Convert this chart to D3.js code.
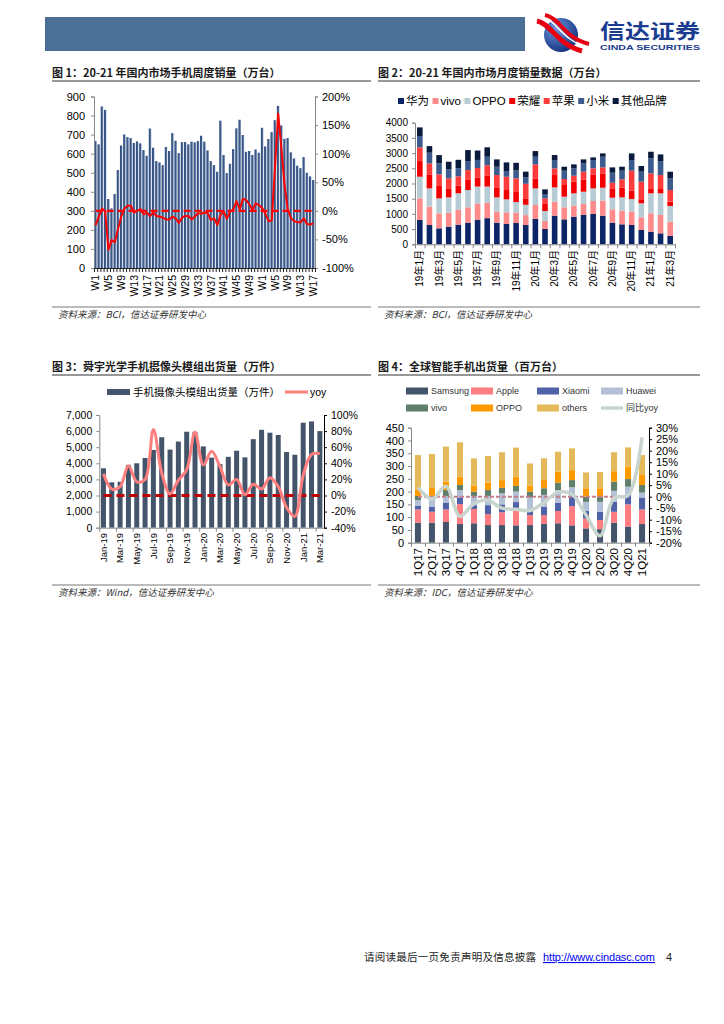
<!DOCTYPE html>
<html>
<head>
<meta charset="utf-8">
<script src="https://cdn.jsdelivr.net/npm/d3@7/dist/d3.min.js"></script>
<style>
body { margin: 0; background: #fff; }
svg { display: block; }
text { font-family: "Liberation Sans", Arial, "Noto Sans CJK SC", sans-serif; }
.cjk { font-family: "Noto Sans CJK SC", "Liberation Sans", sans-serif; }
</style>
</head>
<body>
<svg id="page" width="724" height="1024"></svg>
<script>
// fig 1: weekly domestic sales (万台) + yoy (%)
const weekCats = d3.range(1, 53).map(w => "20W" + w).concat(d3.range(1, 18).map(w => "21W" + w))
const weekTicks = ["W1","W5","W9","W13","W17","W21","W25","W29","W33","W37","W41","W45","W49","W1","W5","W9","W13","W17"]
const weekSales = [666,649,848,830,362,313,388,514,643,701,
	687,682,656,664,654,619,589,732,631,561,
	554,540,635,614,708,668,603,661,661,649,
	663,659,666,694,663,617,561,540,505,773,
	593,498,547,624,733,778,698,610,614,593,
	622,605,736,638,677,713,776,851,748,678,
	682,607,575,537,524,582,500,481,462]
const weekYoy = [-25,-10,4,-1,-68,-51,-55,-32,-10,4,
	9,9,-3,0,3,-6,-3,-9,-3,-9,
	-10,-12,-15,-15,-10,-13,-21,-12,-9,-9,
	-15,-10,-4,-5,-3,-4,-16,-13,-25,-7,
	-1,-14,-1,2,17,3,21,19,11,2,
	13,10,5,-5,-18,-17,75,170,110,45,
	2,-13,-18,-20,-20,-13,-23,-24,-22]

// fig 2: monthly sales by brand (万台)
const months2 = ["19年1月","19年2月","19年3月","19年4月","19年5月","19年6月","19年7月","19年8月","19年9月","19年10月","19年11月","19年12月",
	"20年1月","20年2月","20年3月","20年4月","20年5月","20年6月","20年7月","20年8月","20年9月","20年10月","20年11月","20年12月",
	"21年1月","21年2月","21年3月"]
const brandKeys = ["华为","vivo","OPPO","荣耀","苹果","小米","其他品牌"]
const huawei = [800,635,526,580,645,712,810,860,712,668,700,635,832,504,942,821,909,964,997,942,712,657,635,471,416,361,274]
const vivo   = [712,603,493,460,490,504,530,500,361,383,340,325,460,263,460,395,361,361,427,493,438,449,438,416,603,603,471]
const oppo   = [711,602,492,504,545,569,560,540,471,427,350,340,548,328,471,350,406,405,416,427,383,438,417,460,657,712,515]
const honor  = [515,460,406,296,255,351,300,350,329,307,330,211,328,252,405,384,383,400,460,471,307,318,273,110,164,142,142]
const apple  = [449,362,383,328,300,306,310,350,405,438,450,479,460,164,219,197,197,258,197,197,186,274,657,602,493,460,383]
const xiaomi = [373,350,361,296,270,296,265,280,274,186,260,210,252,143,274,273,241,273,274,350,329,284,351,329,493,460,383]
const otherBrands = [285,219,274,252,275,362,310,310,241,285,250,190,187,153,164,132,132,132,88,110,175,132,219,186,219,219,220]
const brandColors = ["#0b2566","#ff8a8a","#b7cbd4","#f20000","#ff3b3b","#3b5a8e","#0a1a3c"]

// fig 3: Sunny Optical camera module shipments (万件) + yoy
const months3 = ["Jan-19","Feb-19","Mar-19","Apr-19","May-19","Jun-19","Jul-19","Aug-19","Sep-19","Oct-19","Nov-19","Dec-19",
	"Jan-20","Feb-20","Mar-20","Apr-20","May-20","Jun-20","Jul-20","Aug-20","Sep-20","Oct-20","Nov-20","Dec-20",
	"Jan-21","Feb-21","Mar-21"]
const camShip = [3690,2820,2850,3900,4000,4330,4830,5620,4850,5350,5960,5950,5050,4350,3950,4400,4780,4370,5500,6080,5900,5760,4700,4530,6520,6600,6000]
const camYoy = [27,8,11,37,17,20,82,28,2,19,32,79,38,55,36,13,20,1,14,8,22,11,-15,-26,25,51,52]

// fig 4: global smartphone shipments (百万台) + yoy
const quarters = ["1Q17","2Q17","3Q17","4Q17","1Q18","2Q18","3Q18","4Q18","1Q19","2Q19","3Q19","4Q19","1Q20","2Q20","3Q20","4Q20","1Q21"]
const vendorKeys = ["Samsung","Apple","Xiaomi","Huawei","vivo","OPPO","others"]
const samsung = [78,78,81,73,76,69,69,68,69,74,76,68,56,53,78,63,73]
const appleQ  = [52,43,49,78,56,43,50,56,39,34,48,75,39,36,43,87,57]
const xiaomiQ = [15,20,27,26,15,35,31,35,22,33,33,37,29,32,39,37,47]
const huaweiQ = [22,26,26,29,36,36,43,41,47,46,49,37,36,39,43,32,19]
const vivoQ   = [16,16,23,20,17,23,22,22,23,26,29,28,20,20,36,30,30]
const oppoQ   = [26,34,33,32,24,30,30,36,24,32,43,39,33,33,41,48,39]
const othersQ = [134,130,137,135,106,103,109,114,86,85,78,85,62,64,74,76,78]
const globalYoy = [4,-1,4.5,-8.5,-3,-1.5,-5,-5.5,-6,-2.5,2,1,-8,-17,-0.5,0.5,25.8]
const vendorColors = ["#44546a","#ff7c80","#4f62a8","#b4c0d8","#5f7f6a","#ff9900","#e3b95a"]

const svg = d3.select("#page")
svg.append("rect").attr("width", 724).attr("height", 1024).attr("fill", "#fff")

const defs = svg.append("defs")
const bg = defs.append("linearGradient").attr("id", "barGrad").attr("x1", 0).attr("x2", 1).attr("y1", 0).attr("y2", 0)
bg.append("stop").attr("offset", "0").attr("stop-color", "#2f4c7c")
bg.append("stop").attr("offset", "0.6").attr("stop-color", "#3f5d8d")
bg.append("stop").attr("offset", "1").attr("stop-color", "#aebfd6")
const lg = defs.append("radialGradient").attr("id", "logoGrad").attr("cx", "0.35").attr("cy", "0.3").attr("r", "0.8")
lg.append("stop").attr("offset", "0").attr("stop-color", "#6d95dc")
lg.append("stop").attr("offset", "1").attr("stop-color", "#0c2a78")

// header
svg.append("rect").attr("x", 45).attr("y", 17).attr("width", 480).attr("height", 34).attr("fill", "#4c6f98")
svg.append("circle").attr("cx", 561).attr("cy", 35).attr("r", 17).attr("fill", "url(#logoGrad)")
svg.append("path").attr("d", "M537,21 C552,24 556,44 582,51").attr("fill", "none").attr("stroke", "#e60012").attr("stroke-width", 5)
svg.append("path").attr("d", "M542,17 C557,20 561,40 587,47").attr("fill", "none").attr("stroke", "#fff").attr("stroke-width", 1.5)
svg.append("path").attr("d", "M545,15 C560,18 564,38 589,44").attr("fill", "none").attr("stroke", "#e60012").attr("stroke-width", 4)
svg.append("text").attr("class", "cjk").attr("x", 600).attr("y", 39).attr("font-size", 20).attr("font-weight", "bold")
	.attr("fill", "#1a3c8f").attr("textLength", 100).attr("lengthAdjust", "spacingAndGlyphs").text("信达证券")
svg.append("text").attr("x", 600).attr("y", 50).attr("font-size", 7).attr("font-weight", "bold")
	.attr("fill", "#1a3c8f").attr("textLength", 100).attr("lengthAdjust", "spacingAndGlyphs").text("CINDA SECURITIES")

// footer
svg.append("text").attr("class", "cjk").attr("x", 364).attr("y", 961).attr("font-size", 10.5).attr("fill", "#222")
	.attr("textLength", 172).text("请阅读最后一页免责声明及信息披露")
svg.append("text").attr("x", 543).attr("y", 961).attr("font-size", 11).attr("fill", "#0000ee")
	.attr("text-decoration", "underline").attr("textLength", 112).text("http://www.cindasc.com")
svg.append("text").attr("x", 666).attr("y", 961).attr("font-size", 11).attr("fill", "#222").text("4")

function frame(x, x2, yTitle, ySource, titleText, sourceText) {
	svg.append("text").attr("class", "cjk").attr("x", x).attr("y", yTitle).attr("dy", "0.35em")
		.attr("font-size", 11).attr("font-weight", "bold").attr("fill", "#1a1a1a").text(titleText)
	svg.append("line").attr("x1", x).attr("x2", x2).attr("y1", yTitle + 8).attr("y2", yTitle + 8)
		.attr("stroke", "#333").attr("stroke-width", 1.2)
	svg.append("line").attr("x1", x).attr("x2", x2).attr("y1", ySource - 8).attr("y2", ySource - 8)
		.attr("stroke", "#555").attr("stroke-width", 0.8)
	svg.append("text").attr("class", "cjk").attr("x", x + 6).attr("y", ySource).attr("dy", "0.35em")
		.attr("font-size", 9.5).attr("font-style", "italic").attr("fill", "#333").text(sourceText)
}

function styleAxis(g, color, size) {
	g.select(".domain").attr("stroke", color)
	g.selectAll(".tick line").attr("stroke", color)
	g.selectAll(".tick text").attr("fill", "#000").attr("font-size", size)
}

function rotLabels(g, items, y, size) {
	g.selectAll(null).data(items).join("text")
		.attr("transform", d => `translate(${d.x},${y}) rotate(-90)`)
		.attr("text-anchor", "end").attr("dy", "0.35em").attr("font-size", size)
		.attr("fill", "#000").text(d => d.label)
}

// ---------- figure 1 ----------
frame(52, 371, 73, 315, "图 1：20-21 年国内市场手机周度销量（万台）", "资料来源：BCI，信达证券研发中心")
{
	const g = svg.append("g")
	const x = d3.scaleBand().domain(weekCats).range([94, 315]).paddingInner(0.2).paddingOuter(0.1)
	const y = d3.scaleLinear().domain([0, 900]).range([268, 96.5])
	const yr = d3.scaleLinear().domain([-100, 200]).range([268, 96.5])
	const cx = i => x(weekCats[i]) + x.bandwidth() / 2

	g.selectAll("rect").data(weekSales).join("rect")
		.attr("x", (d, i) => x(weekCats[i])).attr("y", d => y(d))
		.attr("width", x.bandwidth()).attr("height", d => y(0) - y(d))
		.attr("fill", "url(#barGrad)")

	styleAxis(g.append("g").attr("transform", "translate(94,0)")
		.call(d3.axisLeft(y).tickValues(d3.range(0, 901, 100)).tickFormat(d3.format("d")).tickSize(3).tickPadding(6)), "#888", 11)
	styleAxis(g.append("g").attr("transform", "translate(315,0)")
		.call(d3.axisRight(yr).tickValues(d3.range(-100, 201, 50)).tickFormat(d => d + "%").tickSize(3).tickPadding(4)), "#888", 11)
	const xb = d3.scaleLinear().domain([0, weekCats.length]).range([94, 315])
	styleAxis(g.append("g").attr("transform", "translate(0,268)")
		.call(d3.axisBottom(xb).tickValues(d3.range(0, weekCats.length + 1)).tickSize(4).tickFormat("").tickSizeOuter(0)), "#222", 10)
	rotLabels(g, weekTicks.map((t, k) => ({ label: t, x: cx(k * 4) })), 275, 10.5)

	g.append("line").attr("x1", cx(0)).attr("x2", cx(weekCats.length - 1))
		.attr("y1", yr(0)).attr("y2", yr(0))
		.attr("stroke", "#ff0000").attr("stroke-width", 2.2).attr("stroke-dasharray", "7,4")
	g.append("path").datum(weekYoy)
		.attr("d", d3.line().x((d, i) => cx(i)).y(d => yr(d)))
		.attr("fill", "none").attr("stroke", "#ff0000").attr("stroke-width", 2).attr("stroke-linejoin", "round")
}

// ---------- figure 2 ----------
frame(378, 700, 73, 315, "图 2：20-21 年国内市场月度销量数据（万台）", "资料来源：BCI，信达证券研发中心")
{
	const g = svg.append("g")
	const series = [huawei, vivo, oppo, honor, apple, xiaomi, otherBrands]
	const table = months2.map((m, i) => {
		const row = { month: m }
		brandKeys.forEach((k, j) => row[k] = series[j][i])
		return row
	})
	const stacked = d3.stack().keys(brandKeys)(table)
	const x = d3.scaleBand().domain(months2).range([415, 675]).paddingInner(0.42).paddingOuter(0.21)
	const y = d3.scaleLinear().domain([0, 4000]).range([244.3, 122.7])
	const color = d3.scaleOrdinal().domain(brandKeys).range(brandColors)

	g.selectAll("g.layer").data(stacked).join("g").attr("fill", d => color(d.key))
		.selectAll("rect").data(d => d).join("rect")
		.attr("x", d => x(d.data.month)).attr("y", d => y(d[1]))
		.attr("width", x.bandwidth()).attr("height", d => y(d[0]) - y(d[1]))

	styleAxis(g.append("g").attr("transform", "translate(415,0)")
		.call(d3.axisLeft(y).tickValues(d3.range(0, 4001, 500)).tickFormat(d3.format("d")).tickSize(3).tickPadding(4)), "#888", 10)
	const xb = d3.scaleLinear().domain([0, months2.length]).range([415, 675])
	styleAxis(g.append("g").attr("transform", "translate(0,244.3)")
		.call(d3.axisBottom(xb).tickValues(d3.range(0, months2.length + 1)).tickSize(4).tickFormat("").tickSizeOuter(0)), "#888", 10)
	rotLabels(g, months2.filter((m, i) => i % 2 === 0).map(m => ({ label: m, x: x(m) + x.bandwidth() / 2 })), 250, 10)

	let lx = 398
	brandKeys.forEach(k => {
		g.append("rect").attr("x", lx).attr("y", 98).attr("width", 6).attr("height", 6).attr("fill", color(k))
		const t = g.append("text").attr("x", lx + 8).attr("y", 101).attr("dy", "0.35em")
			.attr("font-size", 11.5).attr("fill", "#000").text(k)
		lx += 8 + t.node().getComputedTextLength() + 3.5
	})
}

// ---------- figure 3 ----------
frame(52, 371, 367, 593, "图 3：舜宇光学手机摄像头模组出货量（万件）", "资料来源：Wind，信达证券研发中心")
{
	const g = svg.append("g")
	const x = d3.scaleBand().domain(months3).range([99.3, 324]).paddingInner(0.4).paddingOuter(0.2)
	const y = d3.scaleLinear().domain([0, 7000]).range([527.7, 415])
	const yr = d3.scaleLinear().domain([-40, 100]).range([527.7, 415])
	const cx = m => x(m) + x.bandwidth() / 2

	g.selectAll("rect").data(camShip).join("rect")
		.attr("x", (d, i) => x(months3[i])).attr("y", d => y(d))
		.attr("width", x.bandwidth()).attr("height", d => y(0) - y(d))
		.attr("fill", "#44546a")

	styleAxis(g.append("g").attr("transform", "translate(99.3,0)")
		.call(d3.axisLeft(y).tickValues(d3.range(0, 7001, 1000)).tickFormat(d3.format(",")).tickSize(3).tickPadding(4)), "#888", 10.5)
	styleAxis(g.append("g").attr("transform", "translate(324,0)")
		.call(d3.axisRight(yr).tickValues(d3.range(-40, 101, 20)).tickFormat(d => d + "%").tickSize(3).tickPadding(4)), "#000", 10.5)
	const xb = d3.scaleLinear().domain([0, months3.length]).range([99.3, 324])
	styleAxis(g.append("g").attr("transform", "translate(0,527.7)")
		.call(d3.axisBottom(xb).tickValues(d3.range(0, months3.length + 1, 2)).tickSize(4).tickFormat("").tickSizeOuter(0)), "#888", 10)
	rotLabels(g, months3.filter((m, i) => i % 2 === 0).map(m => ({ label: m, x: cx(m) })), 533, 9.5)

	g.append("line").attr("x1", cx(months3[0])).attr("x2", cx(months3[months3.length - 1]))
		.attr("y1", yr(0)).attr("y2", yr(0))
		.attr("stroke", "#c00000").attr("stroke-width", 3).attr("stroke-dasharray", "8,5")
	g.append("path").datum(camYoy)
		.attr("d", d3.line().x((d, i) => cx(months3[i])).y(d => yr(d)).curve(d3.curveCatmullRom.alpha(0.5)))
		.attr("fill", "none").attr("stroke", "#ff7f7f").attr("stroke-width", 3)

	g.append("rect").attr("x", 107).attr("y", 389).attr("width", 23).attr("height", 6).attr("fill", "#44546a")
	g.append("text").attr("x", 133).attr("y", 392).attr("dy", "0.35em").attr("font-size", 10.5).attr("fill", "#000")
		.text("手机摄像头模组出货量（万件）")
	g.append("line").attr("x1", 285).attr("x2", 308).attr("y1", 392).attr("y2", 392).attr("stroke", "#ff7f7f").attr("stroke-width", 3)
	g.append("text").attr("x", 310).attr("y", 392).attr("dy", "0.35em").attr("font-size", 10.5).attr("fill", "#000").text("yoy")
}

// ---------- figure 4 ----------
frame(378, 700, 367, 593, "图 4：全球智能手机出货量（百万台）", "资料来源：IDC，信达证券研发中心")
{
	const g = svg.append("g")
	const series = [samsung, appleQ, xiaomiQ, huaweiQ, vivoQ, oppoQ, othersQ]
	const table = quarters.map((q, i) => {
		const row = { q: q }
		vendorKeys.forEach((k, j) => row[k] = series[j][i])
		return row
	})
	const stacked = d3.stack().keys(vendorKeys)(table)
	const x = d3.scaleBand().domain(quarters).range([411, 649]).paddingInner(0.57).paddingOuter(0.28)
	const y = d3.scaleLinear().domain([0, 450]).range([542.7, 427.7])
	const yr = d3.scaleLinear().domain([-20, 30]).range([542.7, 427.7])
	const color = d3.scaleOrdinal().domain(vendorKeys).range(vendorColors)
	const cx = q => x(q) + x.bandwidth() / 2

	g.selectAll("g.layer").data(stacked).join("g").attr("fill", d => color(d.key))
		.selectAll("rect").data(d => d).join("rect")
		.attr("x", d => x(d.data.q)).attr("y", d => y(d[1]))
		.attr("width", x.bandwidth()).attr("height", d => y(d[0]) - y(d[1]))

	styleAxis(g.append("g").attr("transform", "translate(411,0)")
		.call(d3.axisLeft(y).tickValues(d3.range(0, 451, 50)).tickFormat(d3.format("d")).tickSize(3).tickPadding(4)), "#888", 11)
	styleAxis(g.append("g").attr("transform", "translate(649,0)")
		.call(d3.axisRight(yr).tickValues(d3.range(-20, 31, 5)).tickFormat(d => d + "%").tickSize(3).tickPadding(4)), "#000", 11)
	const xb = d3.scaleLinear().domain([0, quarters.length]).range([411, 649])
	styleAxis(g.append("g").attr("transform", "translate(0,542.7)")
		.call(d3.axisBottom(xb).tickValues(d3.range(0, quarters.length + 1)).tickSize(4).tickFormat("").tickSizeOuter(0)), "#888", 10)
	rotLabels(g, quarters.map(q => ({ label: q, x: cx(q) })), 548, 11.5)

	g.append("line").attr("x1", cx(quarters[0])).attr("x2", cx(quarters[quarters.length - 2]))
		.attr("y1", yr(0)).attr("y2", yr(0))
		.attr("stroke", "#c47f8c").attr("stroke-width", 2).attr("stroke-dasharray", "4,2")
	g.append("path").datum(globalYoy)
		.attr("d", d3.line().x((d, i) => cx(quarters[i])).y(d => yr(d)).curve(d3.curveCatmullRom.alpha(0.5)))
		.attr("fill", "none").attr("stroke", "#c8d5cf").attr("stroke-width", 3.5)

	const legendItems = vendorKeys.map((k, i) => ({ label: k, color: color(k), line: false }))
		.concat([{ label: "同比yoy", color: "#c8d5cf", line: true }])
	const colX = [406, 471, 537, 601]
	legendItems.forEach((d, i) => {
		const lx = colX[i % 4], ly = i < 4 ? 391 : 408
		if (d.line) {
			g.append("line").attr("x1", lx).attr("x2", lx + 22).attr("y1", ly).attr("y2", ly)
				.attr("stroke", d.color).attr("stroke-width", 3.5)
		} else {
			g.append("rect").attr("x", lx).attr("y", ly - 3.5).attr("width", 22).attr("height", 7).attr("fill", d.color)
		}
		g.append("text").attr("x", lx + 25).attr("y", ly).attr("dy", "0.35em")
			.attr("font-size", 9).attr("fill", "#333").text(d.label)
	})
}
</script>
</body>
</html>
